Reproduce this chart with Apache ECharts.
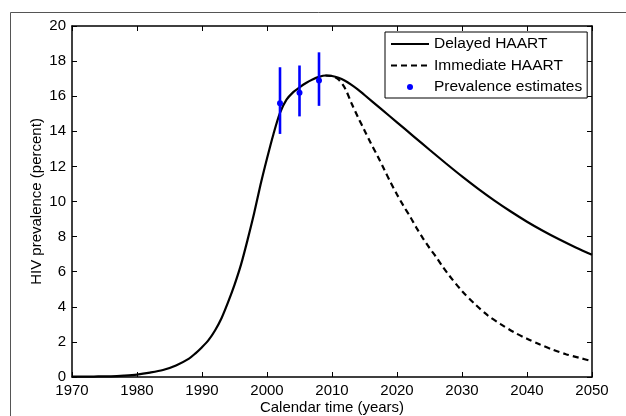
<!DOCTYPE html>
<html>
<head>
<meta charset="utf-8">
<script src="https://cdn.jsdelivr.net/npm/echarts@6/dist/echarts.min.js"></script>
<style>
html,body{margin:0;padding:0;background:#fff;}
#chart{width:626px;height:416px;}
</style>
</head>
<body>
<div id="chart"></div>
<script>
// ---- Data ----
const xTicks = [1970, 1980, 1990, 2000, 2010, 2020, 2030, 2040, 2050];
const yTicks = [0, 2, 4, 6, 8, 10, 12, 14, 16, 18, 20];

const delayedYears = [1970, 1972, 1974, 1976, 1978, 1980, 1982, 1984, 1986, 1988, 1989, 1990, 1991, 1992, 1993, 1994, 1995, 1996, 1997, 1998, 1999, 2000, 2001, 2002, 2003, 2004, 2005, 2006, 2007, 2008, 2009, 2010, 2011, 2012, 2013, 2014, 2015, 2017.5, 2020, 2022.5, 2025, 2027.5, 2030, 2032.5, 2035, 2037.5, 2040, 2042.5, 2045, 2047.5, 2050];
const delayedValues = [0.02, 0.02, 0.03, 0.04, 0.08, 0.14, 0.25, 0.4, 0.66, 1.05, 1.35, 1.7, 2.1, 2.65, 3.35, 4.25, 5.25, 6.4, 7.8, 9.3, 10.95, 12.45, 13.85, 15.05, 15.8, 16.22, 16.5, 16.75, 16.95, 17.1, 17.18, 17.15, 17.05, 16.88, 16.65, 16.38, 16.07, 15.29, 14.51, 13.73, 12.95, 12.18, 11.43, 10.72, 10.05, 9.43, 8.85, 8.32, 7.83, 7.38, 6.97];

const immediateYears = [2009, 2010, 2011, 2012, 2013, 2014, 2015, 2016, 2017, 2018, 2019, 2020, 2021, 2022, 2023, 2024, 2025, 2026, 2027, 2028, 2030, 2032, 2034, 2036, 2038, 2040, 2042, 2044, 2046, 2048, 2050];
const immediateValues = [17.18, 17.15, 16.95, 16.45, 15.6, 14.8, 14.05, 13.3, 12.6, 11.85, 11.1, 10.4, 9.75, 9.15, 8.5, 7.9, 7.35, 6.85, 6.3, 5.8, 4.9, 4.15, 3.5, 3.0, 2.55, 2.18, 1.85, 1.55, 1.3, 1.1, 0.9];

const estYears = [2002, 2005, 2008];
const estValues = [15.6, 16.2, 16.9];
const estLow = [13.85, 14.85, 15.45];
const estHigh = [17.65, 17.75, 18.5];

const seriesNames = ['Delayed HAART', 'Immediate HAART', 'Prevalence estimates'];

// ---- Chart ----
const FONT = '"Liberation Sans", Arial, Helvetica, sans-serif';
const chart = echarts.init(document.getElementById('chart'), null, {renderer: 'canvas'});

const axisCommon = {
  axisLine: {show: true, onZero: false, lineStyle: {color: '#000', width: 1.5}},
  axisTick: {show: true, inside: true, length: 5, lineStyle: {color: '#000', width: 1}},
  splitLine: {show: false}
};

const option = {
  animation: false,
  backgroundColor: '#fff',
  textStyle: {fontFamily: FONT},
  graphic: [{
    type: 'rect', left: 8, top: 10, silent: true, z: -1,
    shape: {width: 700, height: 500},
    style: {fill: 'none', stroke: '#555', lineWidth: 1}
  }],
  grid: {left: 72, top: 26, right: 34, bottom: 39, containLabel: false, outerBoundsMode: 'none'},
  legend: {
    data: [
      {name: seriesNames[0], itemStyle: {opacity: 0}},
      {name: seriesNames[1], itemStyle: {opacity: 0}},
      {name: seriesNames[2]}
    ],
    orient: 'vertical',
    left: 385, top: 32,
    padding: [4, 5, 3, 5],
    itemWidth: 38, itemHeight: 6, itemGap: 5.5,
    backgroundColor: '#fff',
    borderColor: '#000', borderWidth: 1, borderRadius: 0,
    textStyle: {color: '#000', fontSize: 15.5, fontFamily: FONT, lineHeight: 15},
    selectedMode: false
  },
  xAxis: [
    Object.assign({
      type: 'value', position: 'bottom',
      min: xTicks[0], max: xTicks[xTicks.length - 1], interval: xTicks[1] - xTicks[0],
      name: 'Calendar time (years)', nameLocation: 'middle', nameGap: 23, nameMoveOverlap: false,
      nameTextStyle: {color: '#000', fontSize: 15, fontFamily: FONT},
      axisLabel: {color: '#000', fontSize: 15, fontFamily: FONT, margin: 6, formatter: v => String(v)}
    }, axisCommon),
    Object.assign({
      type: 'value', position: 'top',
      min: xTicks[0], max: xTicks[xTicks.length - 1], interval: xTicks[1] - xTicks[0],
      axisLabel: {show: false}
    }, axisCommon)
  ],
  yAxis: [
    Object.assign({
      type: 'value', position: 'left',
      min: yTicks[0], max: yTicks[yTicks.length - 1], interval: yTicks[1] - yTicks[0],
      name: 'HIV prevalence (percent)', nameLocation: 'middle', nameGap: 28, nameRotate: 90, nameMoveOverlap: false,
      nameTextStyle: {color: '#000', fontSize: 15, fontFamily: FONT},
      axisLabel: {color: '#000', fontSize: 15, fontFamily: FONT, margin: 6}
    }, axisCommon),
    Object.assign({
      type: 'value', position: 'right',
      min: yTicks[0], max: yTicks[yTicks.length - 1], interval: yTicks[1] - yTicks[0],
      axisLabel: {show: false}
    }, axisCommon)
  ],
  series: [
    {
      name: seriesNames[0], type: 'line',
      data: delayedYears.map((y, i) => [y, delayedValues[i]]),
      symbol: 'none', smooth: 0.3,
      itemStyle: {color: '#000'},
      lineStyle: {color: '#000', width: 2.2, type: 'solid'},
      z: 3
    },
    {
      name: seriesNames[1], type: 'line',
      data: immediateYears.map((y, i) => [y, immediateValues[i]]),
      symbol: 'none', smooth: 0.3,
      itemStyle: {color: '#000'},
      lineStyle: {color: '#000', width: 2.2, type: [6, 4]},
      z: 3
    },
    {
      name: 'errorbars', type: 'custom',
      data: estYears.map((y, i) => [y, estLow[i], estHigh[i]]),
      renderItem: function (params, api) {
        const p1 = api.coord([api.value(0), api.value(1)]);
        const p2 = api.coord([api.value(0), api.value(2)]);
        return {
          type: 'line',
          shape: {x1: p1[0], y1: p1[1], x2: p2[0], y2: p2[1]},
          style: {stroke: '#0000ff', lineWidth: 2.6}
        };
      },
      z: 4
    },
    {
      name: seriesNames[2], type: 'scatter',
      data: estYears.map((y, i) => [y, estValues[i]]),
      symbol: 'circle', symbolSize: 6,
      itemStyle: {color: '#0000ff', opacity: 1},
      z: 5
    }
  ]
};
chart.setOption(option);
</script>
</body>
</html>
